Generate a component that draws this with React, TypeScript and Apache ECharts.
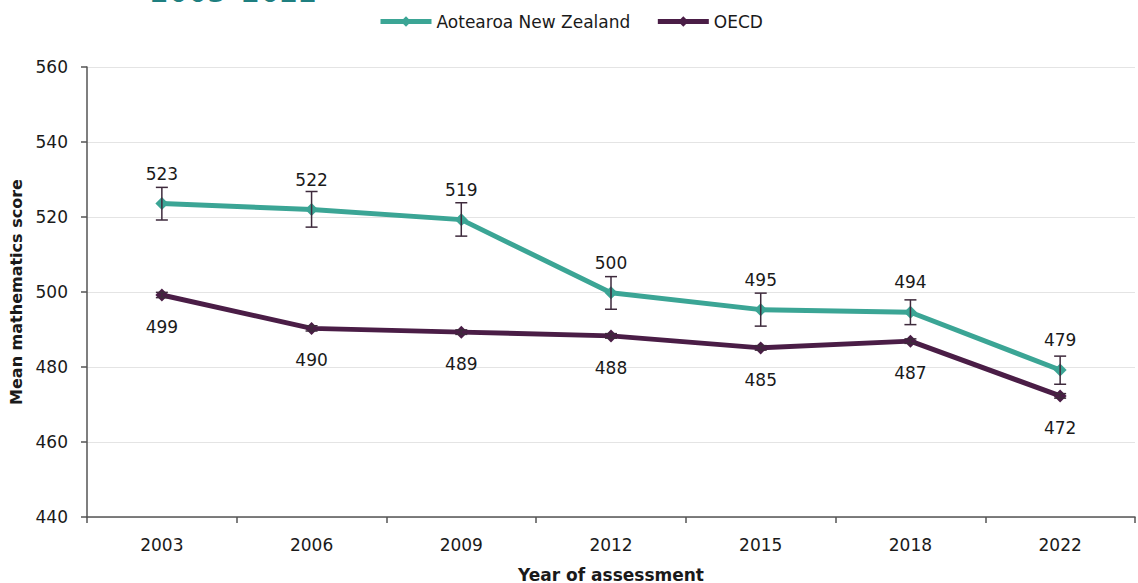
import React, { useEffect, useRef } from "react";
import * as echarts from "echarts";

const years = ["2003", "2006", "2009", "2012", "2015", "2018", "2022"];
const nzScores = [523.6, 522.0, 519.3, 499.8, 495.3, 494.6, 479.2];
const nzLabels = ["523", "522", "519", "500", "495", "494", "479"];
const nzLow = [519.2, 517.3, 514.9, 495.4, 490.9, 491.3, 475.4];
const nzHigh = [527.9, 526.8, 523.8, 504.1, 499.7, 497.9, 482.9];
const oecdScores = [499.2, 490.3, 489.3, 488.3, 485.1, 486.9, 472.3];
const oecdLabels = ["499", "490", "489", "488", "485", "487", "472"];
const oecdLow = [498.5, 489.6, 488.7, 487.7, 484.5, 486.3, 471.7];
const oecdHigh = [499.9, 491.0, 489.9, 488.9, 485.7, 487.5, 472.9];
const yTicks = { min: 440, max: 560, interval: 20 };

const FONT = "'DejaVu Sans', sans-serif";
const TEAL = "#3ba595";
const PLUM = "#4a1d46";
const ERR = "#3e2a3c";
const TXT = "#1a1a1a";

function errorSeries(name: string, low: number[], high: number[]) {
  return {
    type: "custom",
    name,
    z: 5,
    silent: true,
    data: low.map((l, i) => [i, l, high[i]]),
    renderItem: (params: any, api: any) => {
      const x = api.value(0);
      const lo = api.coord([x, api.value(1)]);
      const hi = api.coord([x, api.value(2)]);
      const w = 6;
      const style = { stroke: ERR, lineWidth: 1.5 };
      return {
        type: "group",
        children: [
          { type: "line", shape: { x1: lo[0], y1: lo[1], x2: hi[0], y2: hi[1] }, style },
          { type: "line", shape: { x1: lo[0] - w, y1: lo[1], x2: lo[0] + w, y2: lo[1] }, style },
          { type: "line", shape: { x1: hi[0] - w, y1: hi[1], x2: hi[0] + w, y2: hi[1] }, style },
        ],
      };
    },
  };
}

export default function App() {
  const ref = useRef<HTMLDivElement>(null);
  useEffect(() => {
    if (!ref.current) return;
    const chart = echarts.init(ref.current, null, { renderer: "svg" });
    chart.setOption({
      animation: false,
      backgroundColor: "#ffffff",
      textStyle: { fontFamily: FONT },
      graphic: [
        {
          type: "text",
          left: 150,
          top: -24,
          style: {
            text: "2003–2022",
            font: `30px ${FONT}`,
            fill: "#1f7f80",
          },
        },
      ],
      legend: {
        top: 8,
        left: 373,
        itemWidth: 51,
        itemHeight: 13,
        itemGap: 25,
        lineStyle: { width: 5 },
        textStyle: { fontSize: 17, color: TXT, fontFamily: FONT },
        data: ["Aotearoa New Zealand", "OECD"],
      },
      grid: { left: 87, right: 3, top: 67, bottom: 66, outerBoundsMode: "none", containLabel: false },
      xAxis: {
        type: "category",
        data: years,
        boundaryGap: true,
        name: "Year of assessment",
        nameLocation: "middle",
        nameGap: 49,
        nameTextStyle: { fontSize: 17, fontWeight: "bold", color: TXT, fontFamily: FONT },
        axisLine: { lineStyle: { color: "#555", width: 1.5 } },
        axisTick: { show: true, length: 6, lineStyle: { color: "#555", width: 1.5 } },
        axisLabel: { fontSize: 17, color: TXT, margin: 19, fontFamily: FONT },
      },
      yAxis: {
        type: "value",
        min: yTicks.min,
        max: yTicks.max,
        interval: yTicks.interval,
        name: "Mean mathematics score",
        nameLocation: "middle",
        nameGap: 62,
        nameRotate: 90,
        nameTextStyle: { fontSize: 16, fontWeight: "bold", color: TXT, fontFamily: FONT },
        axisLine: { show: true, lineStyle: { color: "#555", width: 1.5 } },
        axisTick: { show: true, length: 6, lineStyle: { color: "#555", width: 1.5 } },
        axisLabel: { fontSize: 17, color: TXT, margin: 19, fontFamily: FONT },
        splitLine: { lineStyle: { color: "#e4e4e4", width: 1 } },
      },
      series: [
        {
          name: "Aotearoa New Zealand",
          type: "line",
          data: nzScores,
          symbol: "diamond",
          symbolSize: 13,
          z: 3,
          lineStyle: { color: TEAL, width: 5 },
          itemStyle: { color: TEAL },
          label: {
            show: true,
            position: "top",
            distance: 15,
            fontSize: 17,
            color: TXT,
            fontFamily: FONT,
            formatter: (p: any) => nzLabels[p.dataIndex],
          },
        },
        {
          name: "OECD",
          type: "line",
          data: oecdScores,
          symbol: "diamond",
          symbolSize: 13,
          z: 3,
          lineStyle: { color: PLUM, width: 5 },
          itemStyle: { color: PLUM },
          label: {
            show: true,
            position: "bottom",
            distance: 17,
            fontSize: 17,
            color: TXT,
            fontFamily: FONT,
            formatter: (p: any) => oecdLabels[p.dataIndex],
          },
        },
        errorSeries("nzErr", nzLow, nzHigh),
        errorSeries("oecdErr", oecdLow, oecdHigh),
      ],
    });
    return () => chart.dispose();
  }, []);
  return (
    <div
      ref={ref}
      style={{ position: "fixed", left: 0, top: 0, width: 1138, height: 583 }}
    />
  );
}
